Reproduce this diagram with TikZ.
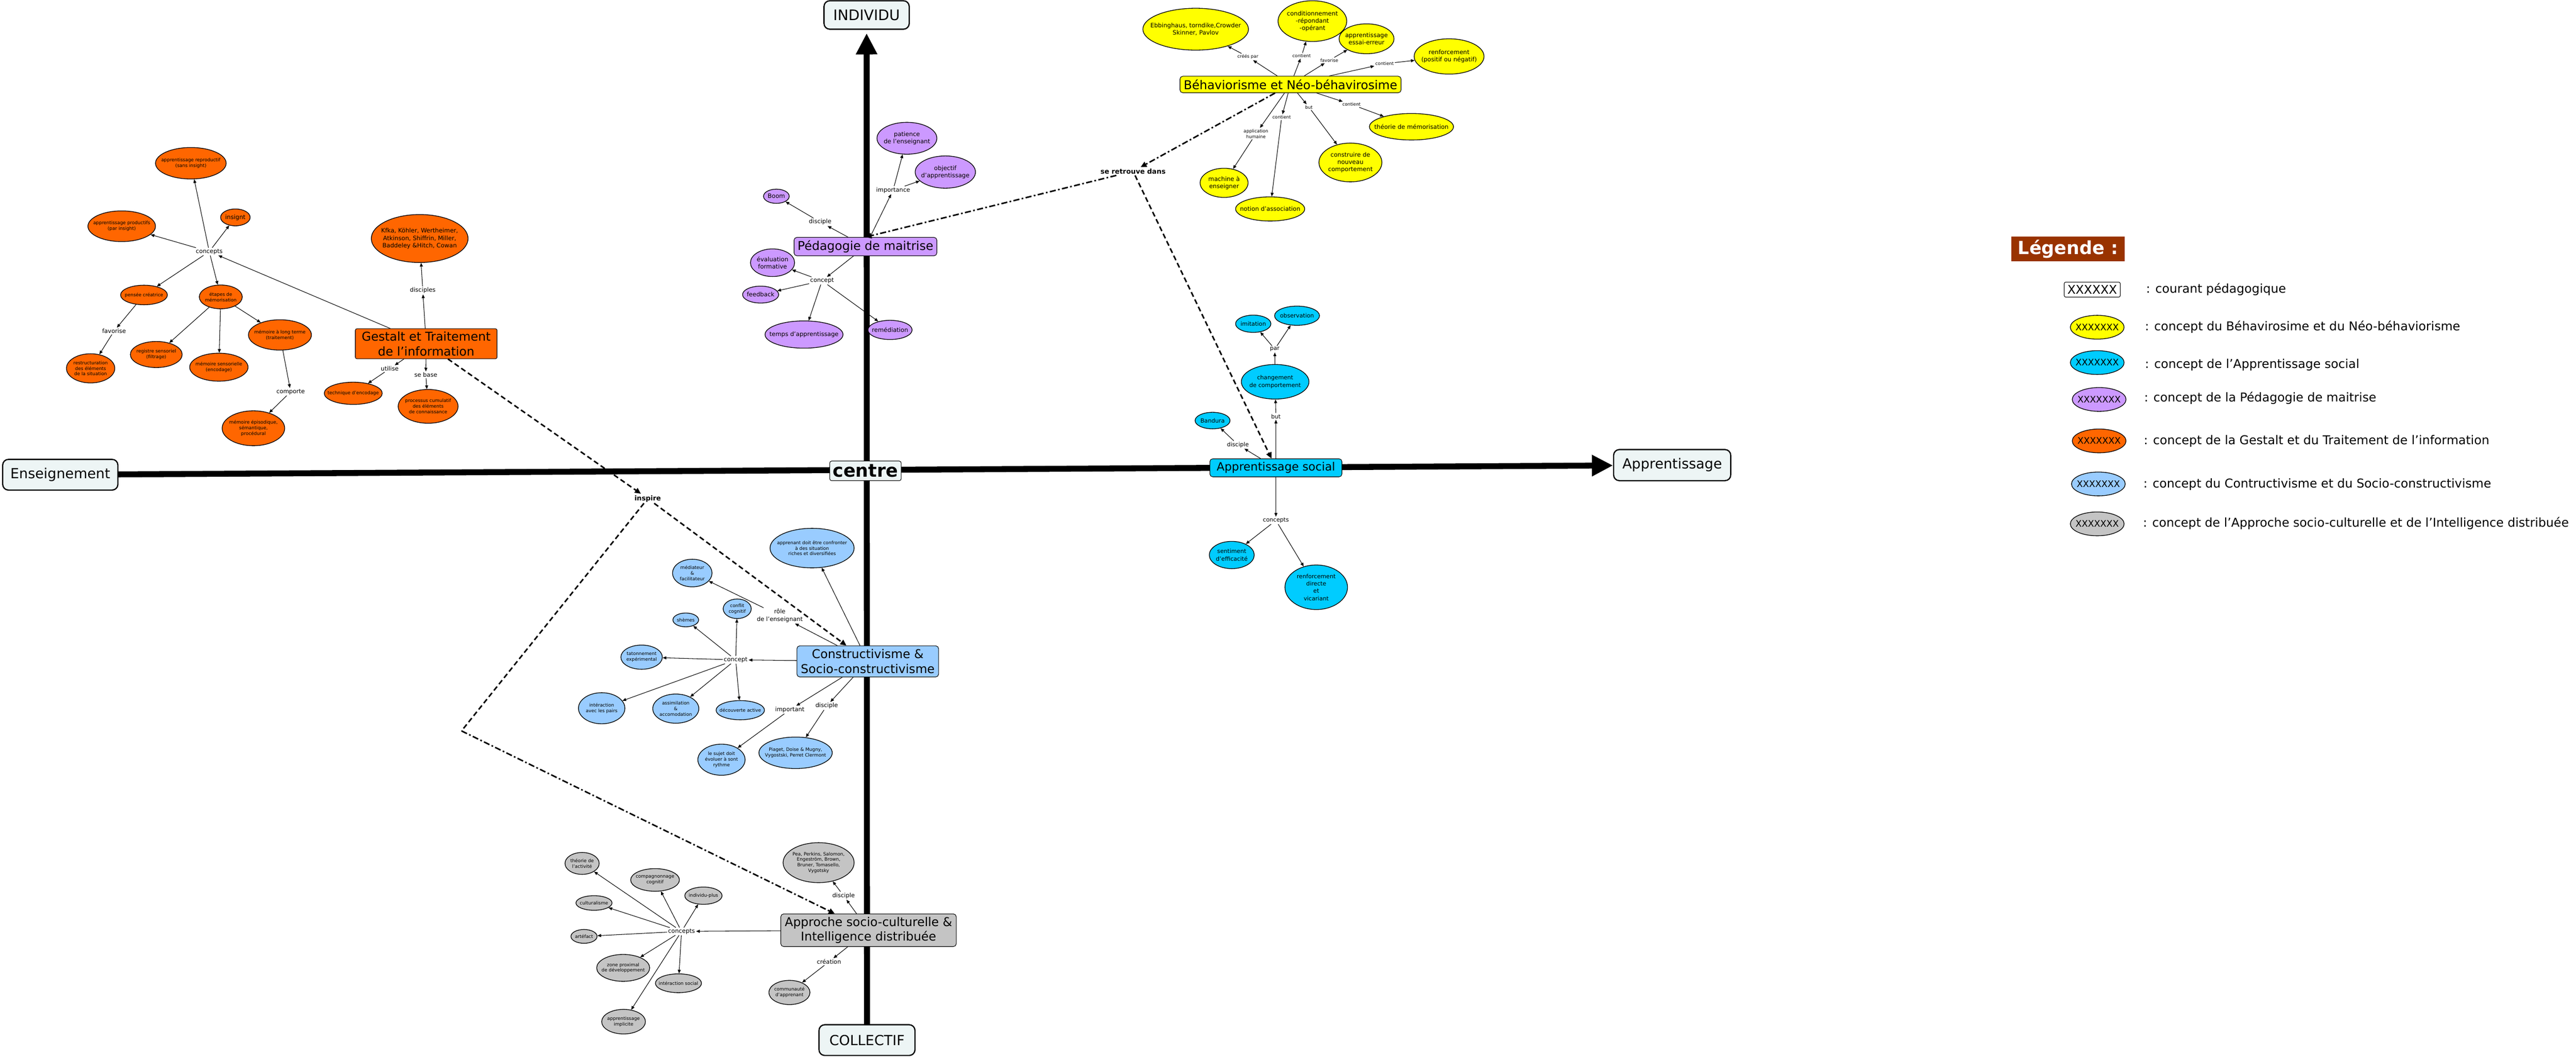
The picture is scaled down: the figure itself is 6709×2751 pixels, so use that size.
\documentclass[tikz,border=0pt]{standalone}
\usepackage{fontspec}
\setmainfont{DejaVu Sans}
\usetikzlibrary{shapes.geometric,arrows.meta}
\definecolor{cjaune}{HTML}{FFFF00}
\definecolor{ccyan}{HTML}{00CCFF}
\definecolor{cviolet}{HTML}{CC99FF}
\definecolor{corange}{HTML}{FF6600}
\definecolor{cbleu}{HTML}{99CCFF}
\definecolor{cgris}{HTML}{C4C4C4}
\definecolor{cfond}{HTML}{EDF5F5}
\definecolor{cbrun}{HTML}{993300}
\begin{document}
\begin{tikzpicture}[x=0.02cm,y=-0.02cm]
\tikzset{base/.style={draw,line width=1pt},concept/.style={base,ellipse,inner sep=0pt},
sz/.style 2 args={minimum width=#1*0.02cm,minimum height=#2*0.02cm},
courant/.style={draw,line width=0.8pt,rounded corners=0.15cm,align=center,inner sep=1pt,font=\fontsize{18}{21.8}\selectfont},
axe/.style={draw,line width=1.8pt,rounded corners=0.3cm,fill=cfond,font=\fontsize{20.6}{24}\selectfont},
lien/.style={font=\fontsize{8.8}{11.2}\selectfont,align=center,inner sep=1.5pt},
lienp/.style={font=\fontsize{6.6}{8.5}\selectfont,align=center,inner sep=1.5pt},
lienv/.style={font=\fontsize{8.5}{11}\selectfont,align=center,inner sep=1.5pt},
gras/.style={font=\bfseries\fontsize{10.1}{12}\selectfont,inner sep=2pt},
petit/.style={font=\fontsize{6.8}{8.3}\selectfont,align=center},
moyen/.style={font=\fontsize{8.9}{10.8}\selectfont,align=center},
verd/.style={font=\fontsize{8.5}{11}\selectfont,align=center},
tp/.style={label={[petit]center:{#1}}},tm/.style={label={[moyen]center:{#1}}},tv/.style={label={[verd]center:{#1}}},
fl/.style={line width=0.8pt,-{Triangle[length=5.5pt,width=4.5pt]}},
gros/.style={line width=0.31cm,-{Triangle[length=1.1cm,width=1.05cm]}},
tiret/.style={line width=2.2pt,dash pattern=on 7.5pt off 4.5pt,-{Triangle[length=9pt,width=8pt]}},
tiretpt/.style={line width=2.2pt,dash pattern=on 9pt off 3.5pt on 2.5pt off 3.5pt,-{Triangle[length=9pt,width=8pt]}}}
\useasboundingbox (0,0) rectangle (6709,2751);
% axes
\node[axe,sz={222}{74},font=\fontsize{21.5}{24}\selectfont] (individu) at (2257,39) {INDIVIDU};
\node[axe,sz={250}{80}] (collectif) at (2258,2708) {COLLECTIF};
\node[axe,sz={300}{80}] (enseign) at (157,1236) {Enseignement};
\node[axe,sz={305}{81}] (apprent) at (4355,1211) {Apprentissage};
\draw[gros,shorten >=0.18cm] (collectif) -- (individu);
\draw[gros] (enseign) -- (apprent);
\node[draw,line width=0.8pt,rounded corners=0.1cm,fill=cfond,sz={186}{51},inner sep=0pt,font=\bfseries\fontsize{26.7}{30}\selectfont] (centre) at (2254,1226) {centre};
% courants
\node[courant,fill=cjaune,sz={576}{43}] (behav) at (3361,220) {Béhaviorisme et Néo-béhavirosime};
\node[courant,fill=cviolet,sz={372}{48}] (pedago) at (2254,642) {Pédagogie de maitrise};
\node[courant,fill=corange,sz={369}{78},rounded corners=0.08cm] (gestalt) at (1110,895) {Gestalt et Traitement\\de l'information};
\node[courant,fill=cbleu,sz={369}{81}] (constr) at (2260,1722) {Constructivisme \&\\Socio-constructivisme};
\node[courant,fill=cgris,sz={457}{85}] (approche) at (2262,2422) {Approche socio-culturelle \&\\Intelligence distribuée};
\node[courant,fill=ccyan,sz={344}{47},font=\fontsize{17}{20}\selectfont] (social) at (3323,1218) {Apprentissage social};
% behaviorisme
\node[concept,fill=cjaune,sz={275}{109},tm={Ebbinghaus, torndike,Crowder\\Skinner, Pavlov}] (ebb) at (3114,76) {};
\node[concept,fill=cjaune,sz={179}{106},tm={conditionnement\\-répondant\\-opérant}] (cond) at (3418,55) {};
\node[concept,fill=cjaune,sz={143}{78},tm={apprentissage\\essai-erreur}] (essai) at (3559,101) {};
\node[concept,fill=cjaune,sz={182}{92},tm={renforcement\\(positif ou négatif)}] (renf) at (3774,147) {};
\node[concept,fill=cjaune,sz={219}{69},tm={théorie de mémorisation}] (memo) at (3676,330) {};
\node[concept,fill=cjaune,sz={164}{101},tm={construire de\\nouveau\\comportement}] (constru) at (3517,423) {};
\node[concept,fill=cjaune,sz={125}{76},tm={machine à\\enseigner}] (machine) at (3188,476) {};
\node[concept,fill=cjaune,sz={180}{63},tm={notion d'association}] (assoc) at (3308,544) {};
\node[lienp] (lcrees) at (3250,148) {créés par};
\node[lienp] (lcont1) at (3390,145) {contient};
\node[lienp] (lfav) at (3462,157) {favorise};
\node[lienp] (lcont2) at (3606,166) {contient};
\node[lienp] (lcont3) at (3520,272) {contient};
\node[lienp] (lbut1) at (3409,279) {but};
\node[lienp] (lcont4) at (3338,305) {contient};
\node[lienp] (lappl) at (3271,348) {application\\humaine};
\draw[fl] (behav) edge (lcrees) edge (lcont1) edge (lfav) edge (lcont2) edge (lcont3) edge (lbut1) edge (lcont4) edge (lappl);
\draw[fl] (lcrees) -- (ebb);
\draw[fl] (lcont1) -- (cond);
\draw[fl] (lfav) -- (essai);
\draw[fl] (lcont2) -- (renf);
\draw[fl] (lcont3) -- (memo);
\draw[fl] (lbut1) -- (constru);
\draw[fl] (lcont4) -- (assoc);
\draw[fl] (lappl) -- (machine);
% pedagogie de maitrise
\node[concept,fill=cviolet,sz={156}{83},tm={patience\\de l'enseignant}] (patience) at (2362,360) {};
\node[concept,fill=cviolet,sz={157}{84},tm={objectif\\d'apprentissage}] (objectif) at (2462,448) {};
\node[concept,fill=cviolet,sz={67}{37},tm={Boom}] (boom) at (2022,511) {};
\node[concept,fill=cviolet,sz={115}{72},tm={évaluation\\formative}] (evalu) at (2012,684) {};
\node[concept,fill=cviolet,sz={94}{44},tm={feedback}] (feedback) at (1981,767) {};
\node[concept,fill=cviolet,sz={203}{71},tm={temps d'apprentissage}] (temps) at (2094,871) {};
\node[concept,fill=cviolet,sz={115}{50},tm={remédiation}] (remed) at (2318,859) {};
\node[lien] (limport) at (2326,495) {importance};
\node[lien] (ldisc1) at (2136,578) {disciple};
\node[lien] (lconc1) at (2141,731) {concept};
\draw[fl] (pedago) edge (ldisc1) edge (limport) edge (lconc1);
\draw[fl] (ldisc1) -- (boom);
\draw[fl] (limport) edge (patience) edge (objectif);
\draw[fl] (lconc1) edge (evalu) edge (feedback) edge (temps) edge (remed);
% gestalt
\node[concept,fill=corange,sz={252}{125},tm={Kfka, Köhler, Wertheimer,\\Atkinson, Shiffrin, Miller,\\Baddeley \&Hitch, Cowan}] (kfka) at (1093,621) {};
\node[concept,fill=corange,sz={184}{82},tp={apprentissage reproductif\\(sans insight)}] (reprod) at (497,425) {};
\node[concept,fill=corange,sz={77}{44},tm={insignt}] (insignt) at (613,566) {};
\node[concept,fill=corange,sz={176}{80},tp={apprentissage productifs\\(par insight)}] (product) at (317,589) {};
\node[concept,fill=corange,sz={122}{51},tp={pensée créatrice}] (pensee) at (375,768) {};
\node[concept,fill=corange,sz={112}{62},tp={étapes de\\mémorisation}] (etapes) at (575,773) {};
\node[concept,fill=corange,sz={126}{76},tp={restructuration\\des éléments\\de la situation}] (restruct) at (236,959) {};
\node[concept,fill=corange,sz={135}{68},tp={registre sensoriel\\(filtrage)}] (registre) at (407,923) {};
\node[concept,fill=corange,sz={152}{73},tp={mémoire sensorielle\\(encodage)}] (msens) at (570,956) {};
\node[concept,fill=corange,sz={164}{79},tp={mémoire à long terme\\(traitement)}] (mlong) at (729,872) {};
\node[concept,fill=corange,sz={163}{91},tp={mémoire épisodique,\\sémantique,\\procédural}] (episod) at (660,1115) {};
\node[concept,fill=corange,sz={151}{58},tp={technique d'encodage}] (techn) at (920,1024) {};
\node[concept,fill=corange,sz={156}{88},tp={processus cumulatif\\des éléments\\de connaissance}] (cumul) at (1115,1058) {};
\node[lien] (ldisc2) at (1101,756) {disciples};
\node[lien] (lconc2) at (545,655) {concepts};
\node[lien] (lfav2) at (297,862) {favorise};
\node[lien] (lcomp) at (757,1020) {comporte};
\node[lien] (lutil) at (1015,960) {utilise};
\node[lien] (lbase) at (1109,976) {se base};
\draw[fl] (gestalt) edge (ldisc2) edge (lconc2) edge (lutil) edge (lbase);
\draw[fl] (ldisc2) -- (kfka);
\draw[fl] (lconc2) edge (reprod) edge (insignt) edge (product) edge (pensee) edge (etapes);
\draw[fl] (pensee) -- (lfav2);
\draw[fl] (lfav2) -- (restruct);
\draw[fl] (etapes) edge (registre) edge (msens) edge (mlong);
\draw[fl] (mlong) -- (lcomp);
\draw[fl] (lcomp) -- (episod);
\draw[fl] (lutil) -- (techn);
\draw[fl] (lbase) -- (cumul);
% constructivisme
\node[concept,fill=cbleu,sz={219}{103},tp={apprenant doit être confronter\\à des situation\\riches et diversifiées}] (confront) at (2115,1427) {};
\node[concept,fill=cbleu,sz={103}{72},tp={médiateur\\\&\\facilitateur}] (mediat) at (1803,1492) {};
\node[concept,fill=cbleu,sz={73}{51},tp={conflit\\cognitif}] (conflit) at (1920,1585) {};
\node[concept,fill=cbleu,sz={67}{36},tp={shèmes}] (shemes) at (1786,1614) {};
\node[concept,fill=cbleu,sz={108}{63},tp={tatonnement\\expérimental}] (taton) at (1671,1711) {};
\node[concept,fill=cbleu,sz={121}{81},tp={intéraction\\avec les pairs}] (pairs) at (1567,1844) {};
\node[concept,fill=cbleu,sz={120}{76},tp={assimilation\\\&\\accomodation}] (assim) at (1760,1845) {};
\node[concept,fill=cbleu,sz={126}{50},tp={découverte active}] (decouv) at (1928,1849) {};
\node[concept,fill=cbleu,sz={123}{81},tp={le sujet doit\\évoluer à sont\\rythme}] (sujet) at (1879,1978) {};
\node[concept,fill=cbleu,sz={191}{82},tp={Piaget, Doise \& Mugny,\\Vygostski, Perret Clermont}] (piaget) at (2072,1960) {};
\node[lien] (lrole) at (2031,1603) {rôle\\de l'enseignant};
\node[lien] (lconc3) at (1916,1718) {concept};
\node[lien] (limp2) at (2057,1848) {important};
\node[lien] (ldisc3) at (2153,1838) {disciple};
\draw[fl] (constr) edge (confront) edge (lrole) edge (lconc3) edge (limp2) edge (ldisc3);
\draw[fl] (lrole) -- (mediat);
\draw[fl] (lconc3) edge (shemes) edge (conflit) edge (taton) edge (pairs) edge (assim) edge (decouv);
\draw[fl] (limp2) -- (sujet);
\draw[fl] (ldisc3) -- (piaget);
% approche socio-culturelle
\node[concept,fill=cgris,sz={185}{104},tp={Pea, Perkins, Salomon,\\Engeström, Brown,\\Bruner, Tomasello,\\Vygotsky}] (pea) at (2132,2246) {};
\node[concept,fill=cgris,sz={107}{63},tp={communauté\\d'apprenant}] (commun) at (2056,2584) {};
\node[concept,fill=cgris,sz={89}{57},tp={théorie de\\l'activité}] (activ) at (1516,2248) {};
\node[concept,fill=cgris,sz={127}{59},tp={compagnonnage\\cognitif}] (compag) at (1706,2291) {};
\node[concept,fill=cgris,sz={97}{45},tp={individu-plus}] (indiv) at (1832,2332) {};
\node[concept,fill=cgris,sz={94}{38},tp={culturalisme}] (cultur) at (1547,2351) {};
\node[concept,fill=cgris,sz={68}{36},tp={artéfact}] (artef) at (1521,2438) {};
\node[concept,fill=cgris,sz={138}{70},tp={zone proximal\\de développement}] (zone) at (1623,2520) {};
\node[concept,fill=cgris,sz={120}{49},tp={intéraction social}] (interac) at (1767,2560) {};
\node[concept,fill=cgris,sz={114}{64},tp={apprentissage\\implicite}] (implic) at (1624,2660) {};
\node[lien] (ldisc4) at (2197,2332) {disciple};
\node[lien] (lcrea) at (2159,2504) {création};
\node[lien] (lconc4) at (1775,2425) {concepts};
\draw[fl] (approche) edge (ldisc4) edge (lcrea) edge (lconc4);
\draw[fl] (ldisc4) -- (pea);
\draw[fl] (lcrea) -- (commun);
\draw[fl] (lconc4) edge (activ) edge (compag) edge (indiv) edge (cultur) edge (artef) edge (zone) edge (interac) edge (implic);
% apprentissage social
\node[concept,fill=ccyan,sz={91}{43},tv={Bandura}] (bandura) at (3158,1095) {};
\node[concept,fill=ccyan,sz={176}{90},tv={changement\\de comportement}] (changt) at (3321,994) {};
\node[concept,fill=ccyan,sz={92}{45},tv={imitation}] (imit) at (3264,843) {};
\node[concept,fill=ccyan,sz={117}{50},tv={observation}] (observ) at (3378,822) {};
\node[concept,fill=ccyan,sz={117}{71},tv={sentiment\\d'efficacité}] (sentim) at (3208,1445) {};
\node[concept,fill=ccyan,sz={163}{116},tv={renforcement\\directe\\et\\vicariant}] (renfdir) at (3428,1529) {};
\node[lienv] (ldisc5) at (3224,1158) {disciple};
\node[lienv] (lbut2) at (3323,1084) {but};
\node[lienv] (lpar) at (3320,909) {par};
\node[lienv] (lconc5) at (3323,1355) {concepts};
\draw[fl] (social) edge (ldisc5) edge (lbut2) edge (lconc5);
\draw[fl] (ldisc5) -- (bandura);
\draw[fl] (lbut2) -- (changt);
\draw[fl] (changt) -- (lpar);
\draw[fl] (lpar) edge (imit) edge (observ);
\draw[fl] (lconc5) edge (sentim) edge (renfdir);
% liens entre courants
\node[gras] (lretr) at (2951,446) {se retrouve dans};
\node[gras] (linsp) at (1687,1298) {inspire};
\coordinate (coude) at (1202,1903);
\draw[tiretpt] (behav) -- (lretr);
\draw[tiretpt] (lretr) -- (pedago.north);
\draw[tiret] (lretr) -- (social);
\draw[tiret] (gestalt) -- (linsp);
\draw[tiret] (linsp) -- (constr);
\draw[tiret,-] (linsp) -- (coude);
\draw[tiretpt] (coude) -- (approche);
% legende
\node[fill=cbrun,text=white,font=\bfseries\fontsize{26.7}{30}\selectfont,sz={296}{65},inner sep=2pt] (legende) at (5386,648) {Légende :};
\node[draw,line width=0.8pt,rounded corners=0.08cm,sz={146}{39},inner sep=1pt,font=\fontsize{17.9}{20}\selectfont] (lgcour) at (5449,754) {XXXXXX};
\node[concept,fill=cjaune,sz={140}{62},label={[font=\fontsize{13.4}{15}\selectfont]center:XXXXXXX}] (lgjaune) at (5462,852) {};
\node[concept,fill=ccyan,sz={140}{62},label={[font=\fontsize{13.4}{15}\selectfont]center:XXXXXXX}] (lgcyan) at (5462,944) {};
\node[concept,fill=cviolet,sz={140}{62},label={[font=\fontsize{13.4}{15}\selectfont]center:XXXXXXX}] (lgviolet) at (5467,1040) {};
\node[concept,fill=corange,sz={140}{62},label={[font=\fontsize{13.4}{15}\selectfont]center:XXXXXXX}] (lgorange) at (5467,1148) {};
\node[concept,fill=cbleu,sz={140}{62},label={[font=\fontsize{13.4}{15}\selectfont]center:XXXXXXX}] (lgbleu) at (5465,1260) {};
\node[concept,fill=cgris,sz={140}{62},label={[font=\fontsize{13.4}{15}\selectfont]center:XXXXXXX}] (lggris) at (5462,1364) {};
\node[anchor=west,font=\fontsize{18.1}{21}\selectfont] (ltcour) at (5583,754) {: courant pédagogique};
\node[anchor=west,font=\fontsize{18.1}{21}\selectfont] (ltjaune) at (5580,851) {: concept du Béhavirosime et du Néo-béhaviorisme};
\node[anchor=west,font=\fontsize{18.1}{21}\selectfont] (ltcyan) at (5580,950) {: concept de l'Apprentissage social};
\node[anchor=west,font=\fontsize{18.1}{21}\selectfont] (ltviolet) at (5578,1036) {: concept de la Pédagogie de maitrise};
\node[anchor=west,font=\fontsize{18.1}{21}\selectfont] (ltorange) at (5577,1148) {: concept de la Gestalt et du Traitement de l'information};
\node[anchor=west,font=\fontsize{18.1}{21}\selectfont] (ltbleu) at (5576,1261) {: concept du Contructivisme et du Socio-constructivisme};
\node[anchor=west,font=\fontsize{18.1}{21}\selectfont] (ltgris) at (5575,1363) {: concept de l'Approche socio-culturelle et de l'Intelligence distribuée};
\end{tikzpicture}
\end{document}
